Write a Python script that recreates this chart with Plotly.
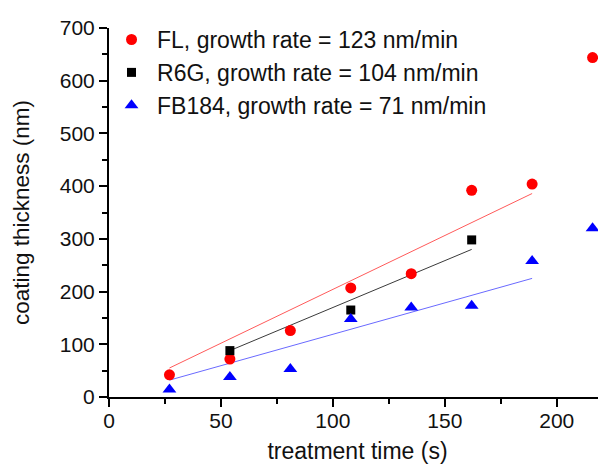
import plotly.graph_objects as go

# данные
time_s = [27, 54, 81, 108, 135, 162, 189, 216]
fl_nm = [42, 72, 126, 207, 234, 392, 404, 644]
r6g_time = [54, 108, 162]
r6g_nm = [88, 165, 298]
fb184_nm = [14, 38, 53, 148, 170, 173, 258, 320]

# концы линий аппроксимации
fl_fit_x = [27, 189]
fl_fit_y = [55, 386]
r6g_fit_x = [54, 162]
r6g_fit_y = [88, 280]
fb_fit_x = [27, 189]
fb_fit_y = [32, 225]

names = ["FL, growth rate = 123 nm/min",
         "R6G, growth rate = 104 nm/min",
         "FB184, growth rate = 71 nm/min"]

FONT = "Liberation Sans, Arial, sans-serif"

fig = go.Figure()

# линии аппроксимации
fig.add_trace(go.Scatter(x=fl_fit_x, y=fl_fit_y, mode="lines",
                         line=dict(color="#ff5a5a", width=1), showlegend=False))
fig.add_trace(go.Scatter(x=r6g_fit_x, y=r6g_fit_y, mode="lines",
                         line=dict(color="#3a3a3a", width=1), showlegend=False))
fig.add_trace(go.Scatter(x=fb_fit_x, y=fb_fit_y, mode="lines",
                         line=dict(color="#6a6aff", width=1), showlegend=False))

# точки
fig.add_trace(go.Scatter(x=time_s, y=fl_nm, mode="markers", name=names[0],
                         marker=dict(symbol="circle", size=11, color="#ff0000")))
fig.add_trace(go.Scatter(x=r6g_time, y=r6g_nm, mode="markers", name=names[1],
                         marker=dict(symbol="square", size=9, color="#000000")))
fig.add_trace(go.Scatter(x=time_s, y=fb184_nm, mode="markers", name=names[2],
                         marker=dict(symbol="triangle-up", size=12, color="#0000ff")))

# страница имеет отступ body 8px, поэтому поля сдвинуты
fig.update_layout(
    width=606, height=467,
    margin=dict(l=101, r=8, t=16, b=78),
    paper_bgcolor="white", plot_bgcolor="white",
    font=dict(family=FONT, size=21, color="#111111"),
    showlegend=True,
    legend=dict(x=-0.006, y=1.027, xanchor="left", yanchor="top",
                bgcolor="rgba(0,0,0,0)", font=dict(size=23),
                itemwidth=41, tracegroupgap=0),
    xaxis=dict(
        range=[0, 222], title=dict(text="treatment time (s)", standoff=12,
                                   font=dict(size=23)),
        tickmode="linear", tick0=0, dtick=50,
        ticks="outside", ticklen=8, tickwidth=1.5, tickcolor="black",
        ticklabelstandoff=-4,
        minor=dict(dtick=25, ticks="outside", ticklen=5, tickcolor="black"),
        showline=True, linecolor="black", linewidth=2,
        showgrid=False, zeroline=False,
    ),
    yaxis=dict(
        range=[0, 700], title=dict(text="coating thickness (nm)", standoff=24,
                                   font=dict(size=22.5)),
        tickmode="linear", tick0=0, dtick=100,
        ticks="outside", ticklen=8, tickwidth=1.5, tickcolor="black",
        minor=dict(dtick=50, ticks="outside", ticklen=5, tickcolor="black"),
        showline=True, linecolor="black", linewidth=2,
        showgrid=False, zeroline=False,
    ),
)

fig.write_html("out.html")
